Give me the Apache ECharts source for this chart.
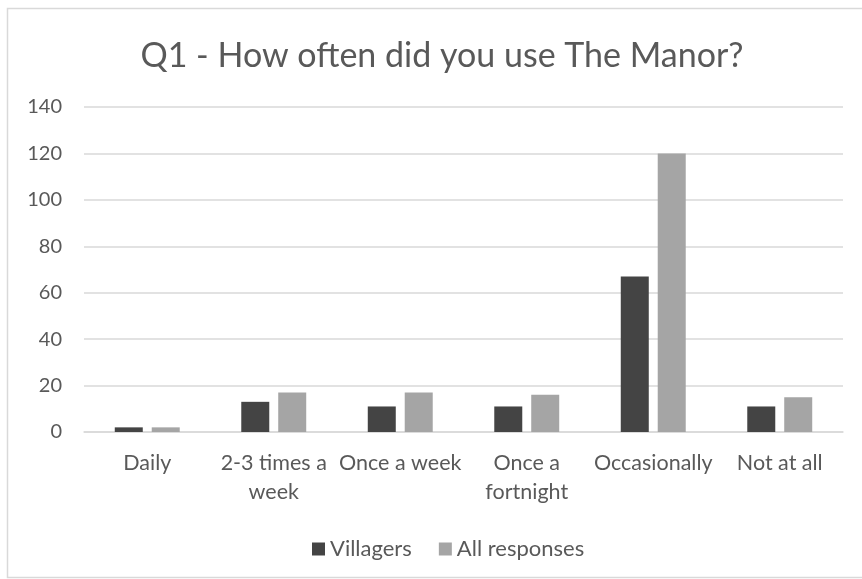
<!DOCTYPE html>
<html>
<head>
<meta charset="utf-8">
<script src="https://cdn.jsdelivr.net/npm/echarts@6/dist/echarts.min.js"></script>
<style>
  html, body { margin: 0; padding: 0; background: #ffffff; }
  #chart { width: 862px; height: 579px; }
</style>
</head>
<body>
<div id="chart"></div>
<script>
// Survey answers to Q1, split by villagers and all responses
const categories = ['Daily', '2-3 times a\nweek', 'Once a week', 'Once a\nfortnight', 'Occasionally', 'Not at all'];
const villagers = [2, 13, 11, 11, 67, 11];
const allResponses = [2, 17, 17, 16, 120, 15];
const yTicks = { min: 0, max: 140, interval: 20 };

const FONT = 'Lato';
const TEXT = '#595959';

const chart = echarts.init(document.getElementById('chart'), null, { renderer: 'canvas' });
chart.setOption({
  backgroundColor: '#ffffff',
  animation: false,
  graphic: [{
    type: 'rect',
    shape: { x: 7.5, y: 8.5, width: 900, height: 569 },
    style: { fill: 'none', stroke: '#d9d9d9', lineWidth: 1.5 },
    silent: true
  }],
  title: {
    text: 'Q1 - How often did you use The Manor?',
    left: 437,
    top: 34,
    textAlign: 'center',
    textStyle: { fontFamily: FONT, fontSize: 34, fontWeight: 'normal', color: TEXT }
  },
  legend: {
    data: ['Villagers', 'All responses'],
    left: 307,
    top: 533,
    itemWidth: 13,
    itemHeight: 13,
    itemGap: 27,
    icon: 'rect',
    textStyle: { fontFamily: FONT, fontSize: 22, color: TEXT, padding: [0, 0, 0, 0] }
  },
  grid: { left: 84, right: 19, top: 107, bottom: 147, containLabel: false },
  xAxis: {
    type: 'category',
    data: categories,
    axisLine: { lineStyle: { color: '#d9d9d9', width: 1.5 } },
    axisTick: { show: false },
    axisLabel: {
      fontFamily: FONT, fontSize: 21.5, color: TEXT,
      margin: 17, lineHeight: 29, interval: 0
    }
  },
  yAxis: {
    type: 'value',
    min: yTicks.min,
    max: yTicks.max,
    interval: yTicks.interval,
    axisLine: { show: false },
    axisTick: { show: false },
    splitLine: { lineStyle: { color: '#d9d9d9', width: 1.5 } },
    axisLabel: { fontFamily: FONT, fontSize: 20, color: TEXT, margin: 22 }
  },
  series: [
    {
      name: 'Villagers',
      type: 'bar',
      data: villagers,
      barWidth: 28,
      barGap: '32%',
      itemStyle: { color: '#444444' }
    },
    {
      name: 'All responses',
      type: 'bar',
      data: allResponses,
      barWidth: 28,
      itemStyle: { color: '#a5a5a5' }
    }
  ]
});
</script>
</body>
</html>
